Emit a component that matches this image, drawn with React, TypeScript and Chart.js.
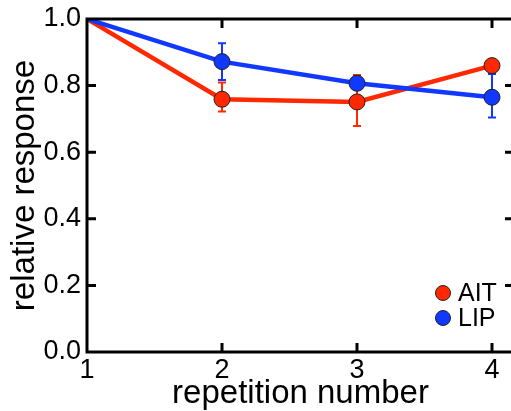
import React, { useEffect, useRef } from "react";
import { Chart, registerables } from "chart.js";

Chart.register(...registerables);

// Repetition index (x) and normalised responses for the two areas
const repetitions = [1, 2, 3, 4];
const aitMean = [1.0, 0.759, 0.751, 0.86];
const aitUpper = [null, 0.809, 0.832, 0.872];
const aitLower = [null, 0.722, 0.679, 0.848];
const lipMean = [1.0, 0.872, 0.807, 0.765];
const lipUpper = [null, 0.927, 0.82, 0.835];
const lipLower = [null, 0.817, 0.794, 0.704];

const xTickValues = [1, 2, 3, 4];
const yTickValues = [0, 0.2, 0.4, 0.6, 0.8, 1.0];

const RED = "#ff2800";
const BLUE = "#1038ff";
const FONT = "'Liberation Sans', Arial, Helvetica, sans-serif";

const CANVAS_W = 523;
const CANVAS_H = 411;

// Error bars drawn beneath the lines and markers
const errorBars = {
  id: "errorBars",
  beforeDatasetsDraw(chart: any) {
    const { ctx } = chart;
    const x = chart.scales.x;
    const y = chart.scales.y;
    chart.data.datasets.forEach((ds: any) => {
      const up: (number | null)[] = ds.errUpper;
      const lo: (number | null)[] = ds.errLower;
      ctx.save();
      ctx.strokeStyle = ds.borderColor;
      ctx.lineWidth = 2;
      repetitions.forEach((r, i) => {
        if (up[i] == null || lo[i] == null) return;
        const px = x.getPixelForValue(r);
        const py1 = y.getPixelForValue(up[i] as number);
        const py2 = y.getPixelForValue(lo[i] as number);
        ctx.beginPath();
        ctx.moveTo(px, py1);
        ctx.lineTo(px, py2);
        ctx.moveTo(px - 4, py1);
        ctx.lineTo(px + 4, py1);
        ctx.moveTo(px - 4, py2);
        ctx.lineTo(px + 4, py2);
        ctx.stroke();
      });
      ctx.restore();
    });
  },
};

// Closed frame with inward-pointing ticks on every side, plus the legend
const frameAndLegend = {
  id: "frameAndLegend",
  afterDraw(chart: any) {
    const { ctx, chartArea } = chart;
    const { left, right, top, bottom } = chartArea;
    const x = chart.scales.x;
    const y = chart.scales.y;
    const tick = 9;
    ctx.save();
    ctx.strokeStyle = "#000";
    ctx.lineWidth = 3;
    ctx.lineCap = "butt";
    ctx.beginPath();
    ctx.moveTo(left, top);
    ctx.lineTo(right, top);
    ctx.moveTo(left, bottom);
    ctx.lineTo(right, bottom);
    ctx.moveTo(left, top - 1.5);
    ctx.lineTo(left, bottom + 1.5);
    ctx.moveTo(right, top - 1.5);
    ctx.lineTo(right, bottom + 1.5);
    xTickValues.forEach((v) => {
      const px = x.getPixelForValue(v);
      ctx.moveTo(px, bottom);
      ctx.lineTo(px, bottom - tick);
      ctx.moveTo(px, top);
      ctx.lineTo(px, top + tick);
    });
    yTickValues.forEach((v) => {
      const py = y.getPixelForValue(v);
      ctx.moveTo(left, py);
      ctx.lineTo(left + tick, py);
      ctx.moveTo(right, py);
      ctx.lineTo(right - tick, py);
    });
    ctx.stroke();

    // legend entries
    const entries = [
      { label: "AIT", color: RED },
      { label: "LIP", color: BLUE },
    ];
    ctx.font = `25px ${FONT}`;
    ctx.textBaseline = "middle";
    ctx.textAlign = "left";
    entries.forEach((e, i) => {
      const cy = bottom - 59 + i * 25;
      const cx = x.getPixelForValue(4) - 49;
      ctx.beginPath();
      ctx.arc(cx, cy, 7.5, 0, Math.PI * 2);
      ctx.fillStyle = e.color;
      ctx.fill();
      ctx.lineWidth = 1;
      ctx.strokeStyle = "#222";
      ctx.stroke();
      ctx.fillStyle = "#000";
      ctx.fillText(e.label, cx + 15, cy + 1);
    });
    ctx.restore();
  },
};

export default function App() {
  const canvasRef = useRef<HTMLCanvasElement | null>(null);

  useEffect(() => {
    const canvas = canvasRef.current;
    if (!canvas) return;
    const pts = (vals: number[]) => repetitions.map((r, i) => ({ x: r, y: vals[i] }));
    const chart = new Chart(canvas, {
      type: "line",
      data: {
        datasets: [
          {
            label: "LIP",
            data: pts(lipMean),
            borderColor: BLUE,
            backgroundColor: BLUE,
            borderWidth: 4.5,
            pointRadius: [0, 8, 8, 8],
            pointBorderColor: "#222",
            pointBorderWidth: 1,
            pointBackgroundColor: BLUE,
            tension: 0,
            errUpper: lipUpper,
            errLower: lipLower,
          } as any,
          {
            label: "AIT",
            data: pts(aitMean),
            borderColor: RED,
            backgroundColor: RED,
            borderWidth: 4.5,
            pointRadius: [0, 8, 8, 8],
            pointBorderColor: "#222",
            pointBorderWidth: 1,
            pointBackgroundColor: RED,
            tension: 0,
            errUpper: aitUpper,
            errLower: aitLower,
          } as any,
        ],
      },
      options: {
        responsive: false,
        animation: false,
        devicePixelRatio: 1,
        layout: { padding: { top: 19, right: 2, left: 0, bottom: 0 } },
        plugins: {
          legend: { display: false },
          tooltip: { enabled: false },
        },
        scales: {
          x: {
            type: "linear",
            min: 1,
            max: 4.163,
            grid: { display: false },
            border: { display: false },
            afterBuildTicks: (scale: any) => {
              scale.ticks = xTickValues.map((v) => ({ value: v }));
            },
            afterFit: (scale: any) => {
              scale.height = 59;
              scale.paddingLeft = 0;
              scale.paddingRight = 0;
            },
            ticks: {
              color: "#000",
              padding: -6,
              maxRotation: 0,
              font: { family: FONT, size: 27 },
              callback: (v: any) => String(v),
            },
            title: {
              display: true,
              text: "repetition number",
              color: "#000",
              font: { family: FONT, size: 33 },
              padding: { top: 0, bottom: -3 },
            },
          },
          y: {
            type: "linear",
            min: 0,
            max: 1,
            grid: { display: false },
            border: { display: false },
            afterBuildTicks: (scale: any) => {
              scale.ticks = yTickValues.map((v) => ({ value: v }));
            },
            afterFit: (scale: any) => {
              scale.width = 87;
              scale.paddingTop = 0;
              scale.paddingBottom = 0;
            },
            ticks: {
              color: "#000",
              padding: -2,
              font: { family: FONT, size: 27 },
              callback: (v: any) => Number(v).toFixed(1),
            },
            title: {
              display: true,
              text: "relative response",
              color: "#000",
              font: { family: FONT, size: 33 },
              padding: { top: 5, bottom: 0 },
            },
          },
        },
      },
      plugins: [errorBars, frameAndLegend],
    });
    return () => chart.destroy();
  }, []);

  return (
    <div style={{ position: "fixed", left: 0, top: 0, width: CANVAS_W, height: CANVAS_H, background: "#fff" }}>
      <canvas ref={canvasRef} width={CANVAS_W} height={CANVAS_H} />
    </div>
  );
}
